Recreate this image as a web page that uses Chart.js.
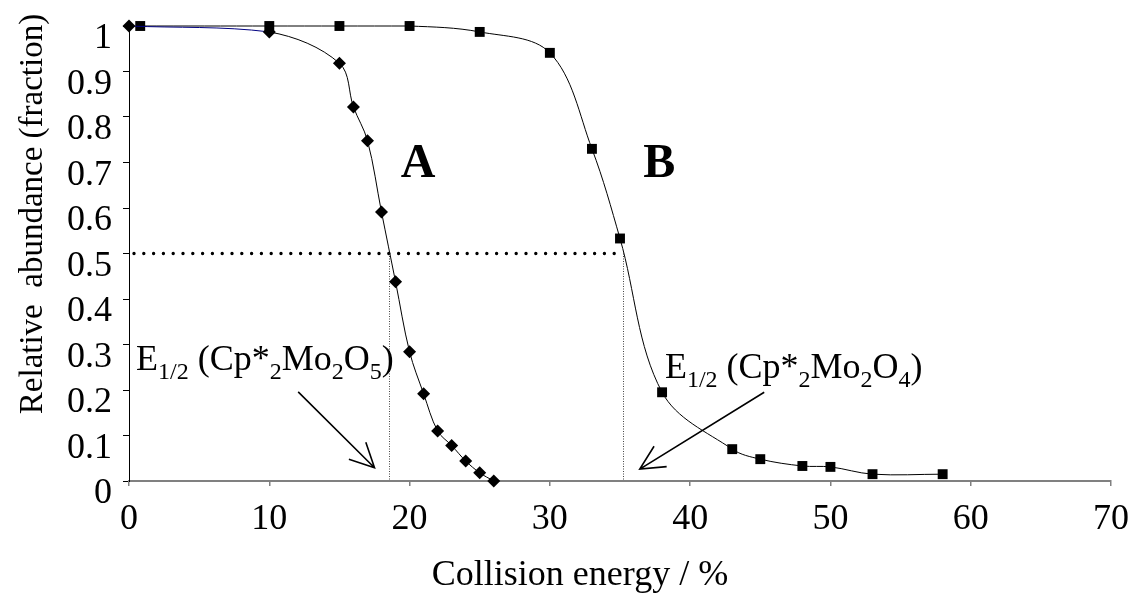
<!DOCTYPE html>
<html>
<head>
<meta charset="utf-8">
<script src="https://cdn.jsdelivr.net/npm/chart.js@4.4.1/dist/chart.umd.min.js"></script>
<style>
  html, body { margin: 0; padding: 0; background: #fff; }
  #chart { display: block; }
</style>
</head>
<body>
<canvas id="chart" width="1136" height="597"></canvas>
<script>
// Curve A (Cp*2Mo2O5), diamonds
const energyA = [0, 10, 15, 16, 17, 18, 19, 20, 21, 22, 23, 24, 25, 26];
const abundanceA = [1.0, 0.987, 0.918, 0.822, 0.748, 0.591, 0.438, 0.284, 0.192, 0.110, 0.078, 0.044, 0.018, 0.0];

// Curve B (Cp*2Mo2O4), squares
const energyB = [0.8, 10, 15, 20, 25, 30, 33, 35, 38, 43, 45, 48, 50, 53, 58];
const abundanceB = [1.0, 1.0, 1.0, 1.0, 0.987, 0.941, 0.730, 0.533, 0.195, 0.070, 0.048, 0.033, 0.031, 0.015, 0.015];

// E1/2
const halfA = 18.5;
const halfB = 35.2;

const xTicks = [0, 10, 20, 30, 40, 50, 60, 70];
const yTicks = [0, 0.1, 0.2, 0.3, 0.4, 0.5, 0.6, 0.7, 0.8, 0.9, 1];

const serif = "'Liberation Serif', 'Times New Roman', serif";

// text made of runs, subscripts drawn smaller and lower
function drawRuns(ctx, x, y, runs, size) {
  ctx.textBaseline = "alphabetic";
  ctx.textAlign = "left";
  for (const r of runs) {
    const fs = r.sub ? Math.round(size * 0.67) : size;
    ctx.font = fs + "px " + serif;
    ctx.fillText(r.t, x, r.sub ? y + size * 0.24 : y);
    x += ctx.measureText(r.t).width;
  }
}

function arrow(ctx, x1, y1, x2, y2) {
  const a = Math.atan2(y1 - y2, x1 - x2);
  const len = 27, spread = 0.46;
  ctx.beginPath();
  ctx.moveTo(x1, y1);
  ctx.lineTo(x2, y2);
  ctx.moveTo(x2 + len * Math.cos(a - spread), y2 + len * Math.sin(a - spread));
  ctx.lineTo(x2, y2);
  ctx.lineTo(x2 + len * Math.cos(a + spread), y2 + len * Math.sin(a + spread));
  ctx.stroke();
}

const marks = {
  id: "marks",
  beforeDatasetsDraw(chart) {
    const ctx = chart.ctx;
    const px = v => chart.scales.x.getPixelForValue(v);
    const py = v => chart.scales.y.getPixelForValue(v);
    ctx.save();
    // thick dotted line at 0.5
    ctx.strokeStyle = "#000";
    ctx.lineWidth = 3.4;
    ctx.lineCap = "round";
    ctx.setLineDash([0, 9.8]);
    ctx.beginPath();
    ctx.moveTo(px(0) + 5, py(0.5));
    ctx.lineTo(px(halfB), py(0.5));
    ctx.stroke();
    // thin dotted drop lines
    ctx.lineWidth = 1;
    ctx.lineCap = "butt";
    ctx.setLineDash([1, 1.5]);
    ctx.strokeStyle = "#444";
    for (const e of [halfA, halfB]) {
      ctx.beginPath();
      ctx.moveTo(Math.round(px(e)) + 0.5, py(0.5));
      ctx.lineTo(Math.round(px(e)) + 0.5, py(0) - 1);
      ctx.stroke();
    }
    ctx.restore();
  },
  afterDatasetsDraw(chart) {
    const ctx = chart.ctx;
    const px = v => chart.scales.x.getPixelForValue(v);
    const py = v => chart.scales.y.getPixelForValue(v);
    ctx.save();
    ctx.fillStyle = "#000";
    ctx.strokeStyle = "#000";
    ctx.lineWidth = 1.6;
    arrow(ctx, px(12.06), py(0.196), px(17.5), py(0.029));
    arrow(ctx, px(45.28), py(0.195), px(36.41), py(0.026));

    ctx.font = "bold 48px " + serif;
    ctx.textAlign = "center";
    ctx.textBaseline = "alphabetic";
    ctx.fillText("A", px(20.6), py(0.668));
    ctx.fillText("B", px(37.8), py(0.668));

    drawRuns(ctx, px(0.5), py(0.244), [
      { t: "E" }, { t: "1/2", sub: true }, { t: " (Cp*" }, { t: "2", sub: true },
      { t: "Mo" }, { t: "2", sub: true }, { t: "O" }, { t: "5", sub: true }, { t: ")" }
    ], 36);
    drawRuns(ctx, px(38.2), py(0.226), [
      { t: "E" }, { t: "1/2", sub: true }, { t: " (Cp*" }, { t: "2", sub: true },
      { t: "Mo" }, { t: "2", sub: true }, { t: "O" }, { t: "4", sub: true }, { t: ")" }
    ], 36);

    // axis titles
    ctx.font = "36px " + serif;
    ctx.textAlign = "center";
    ctx.fillText("Collision energy / %", 580, 585);
    ctx.translate(42, 214);
    ctx.rotate(-Math.PI / 2);
    ctx.font = "33px " + serif;
    ctx.fillText("Relative  abundance (fraction)", 0, 0);
    ctx.restore();
  }
};

new Chart(document.getElementById("chart"), {
  type: "line",
  data: {
    datasets: [
      {
        label: "A",
        data: energyA.map((e, i) => ({ x: e, y: abundanceA[i] })),
        borderColor: "#000",
        borderWidth: 1,
        segment: { borderColor: c => c.p0DataIndex === 0 ? "#000080" : "#000" },
        pointStyle: "rectRot",
        pointRadius: 6.5,
        pointBackgroundColor: "#000",
        pointBorderColor: "#000",
        pointBorderWidth: 0,
        tension: 0.35,
        clip: false
      },
      {
        label: "B",
        data: energyB.map((e, i) => ({ x: e, y: abundanceB[i] })),
        borderColor: "#000",
        borderWidth: 1,
        pointStyle: "rect",
        pointRadius: 7,
        pointBackgroundColor: "#000",
        pointBorderColor: "#000",
        pointBorderWidth: 0,
        tension: 0.35,
        clip: false
      }
    ]
  },
  options: {
    responsive: false,
    animation: false,
    layout: { padding: { top: 26, right: 25, left: 0, bottom: 0 } },
    plugins: { legend: { display: false }, tooltip: { enabled: false } },
    scales: {
      x: {
        type: "linear",
        min: 0,
        max: 70,
        afterFit: s => { s.height = 116; s.paddingLeft = 0; s.paddingRight = 0; },
        afterBuildTicks: s => { s.ticks = xTicks.map(v => ({ value: v })); },
        ticks: { color: "#000", font: { family: serif, size: 36 }, padding: 12, maxRotation: 0, autoSkip: false },
        grid: { drawOnChartArea: false, tickLength: 5, color: "#808080", lineWidth: 1.5 },
        border: { color: "#808080", width: 2 }
      },
      y: {
        type: "linear",
        min: 0,
        max: 1,
        afterFit: s => { s.width = 129; s.paddingTop = 0; s.paddingBottom = 0; },
        afterBuildTicks: s => { s.ticks = yTicks.map(v => ({ value: v })); },
        ticks: {
          color: "#000",
          font: { family: serif, size: 36 },
          padding: 11,
          labelOffset: 13,
          autoSkip: false,
          callback: v => String(Number(v.toFixed(1)))
        },
        grid: { drawOnChartArea: false, tickLength: 6, color: "#000", lineWidth: 1 },
        border: { color: "#000", width: 1 }
      }
    }
  },
  plugins: [marks]
});
</script>
</body>
</html>
